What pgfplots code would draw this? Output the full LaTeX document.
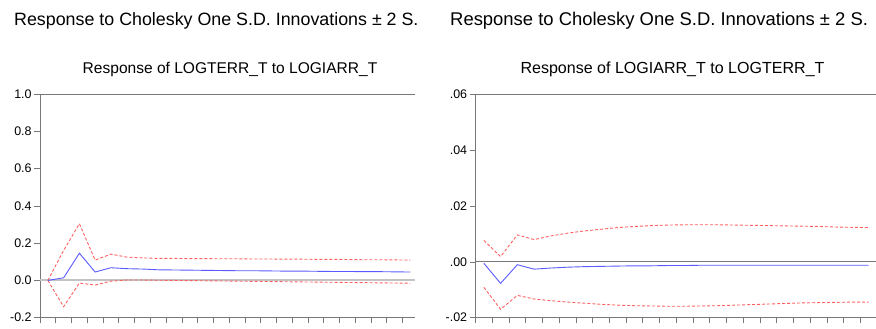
\documentclass[border=0pt]{standalone}
\usepackage{pgfplots}
\pgfplotsset{compat=1.18}
\usepackage{fontspec}
\setmainfont{Liberation Sans}
\definecolor{irfblue}{RGB}{90,90,255}
\definecolor{irfred}{RGB}{255,95,95}
\definecolor{axgray}{RGB}{120,120,120}
\definecolor{zerolight}{RGB}{195,195,195}

\pgfplotstableread{
k blue upper lower
1 0.000 0.000 0.000
2 0.014 0.161 -0.141
3 0.146 0.304 -0.014
4 0.045 0.109 -0.025
5 0.068 0.141 -0.004
6 0.063 0.125 0.002
7 0.061 0.121 0.002
8 0.057 0.118 0.001
9 0.056 0.118 0.000
10 0.055 0.117 -0.001
11 0.054 0.117 -0.002
12 0.053 0.116 -0.003
13 0.052 0.116 -0.004
14 0.052 0.115 -0.005
15 0.051 0.115 -0.006
16 0.050 0.114 -0.007
17 0.050 0.114 -0.008
18 0.049 0.113 -0.009
19 0.048 0.113 -0.010
20 0.048 0.112 -0.011
21 0.047 0.111 -0.012
22 0.047 0.111 -0.013
23 0.046 0.110 -0.014
24 0.045 0.109 -0.015
}\lefttab

\pgfplotstableread{
k blue upper lower
1 -0.0005 0.0077 -0.0091
2 -0.0077 0.0019 -0.0170
3 -0.0010 0.0097 -0.0120
4 -0.0026 0.0080 -0.0133
5 -0.0022 0.0093 -0.0139
6 -0.0019 0.0103 -0.0144
7 -0.0017 0.0111 -0.0148
8 -0.0016 0.0117 -0.0152
9 -0.0015 0.0123 -0.0155
10 -0.0014 0.0127 -0.0157
11 -0.0014 0.0130 -0.0158
12 -0.0013 0.0132 -0.0159
13 -0.0013 0.0133 -0.0159
14 -0.0012 0.0133 -0.0158
15 -0.0012 0.0133 -0.0157
16 -0.0012 0.0132 -0.0155
17 -0.0012 0.0131 -0.0153
18 -0.0012 0.0130 -0.0151
19 -0.0012 0.0129 -0.0149
20 -0.0012 0.0128 -0.0147
21 -0.0012 0.0127 -0.0146
22 -0.0012 0.0125 -0.0145
23 -0.0012 0.0124 -0.0144
24 -0.0012 0.0123 -0.0144
}\righttab

\pgfplotsset{
  irfaxis/.style={
    scale only axis,
    anchor=south west,
    axis x line=box,
    axis y line=left,
    axis line style={draw=axgray,-,line width=0.8bp},
    xtick pos=bottom,
    ytick pos=left,
    tick align=outside,
    xmin=0.5,
    xtick={0.5,1.5,...,23.5},
    xticklabels={},
    major tick length=5.7bp,
    x tick style={draw=axgray,line width=0.6bp},
    y tick style={draw=axgray,line width=0.6bp},
    tick label style={font=\fontsize{12.5}{14}\selectfont, text=black},
    yticklabel style={inner sep=2.5bp},
    scaled y ticks=false,
    clip=false,
  },
  bluel/.style={draw=irfblue,line width=0.9bp,mark=none},
  redl/.style={draw=irfred,line width=0.9bp,dash pattern=on 3bp off 2bp,mark=none},
}

\begin{document}
\begin{tikzpicture}
\useasboundingbox (0,0) rectangle (876bp,329bp);
\clip (0,0) rectangle (876bp,329bp);

\node[anchor=base west,inner sep=0pt,font=\fontsize{17.9}{21}\selectfont] at (14bp,303bp) {Response to Cholesky One S.D. Innovations ± 2 S.};
\node[anchor=base west,inner sep=0pt,font=\fontsize{18.5}{21}\selectfont] at (450bp,303bp) {Response to Cholesky One S.D. Innovations ± 2 S.};
\node[anchor=base,inner sep=0pt,font=\fontsize{15.6}{18}\selectfont] at (230bp,255bp) {Response of LOGTERR\_T to LOGIARR\_T};
\node[anchor=base,inner sep=0pt,font=\fontsize{16.1}{18}\selectfont] at (672.5bp,255bp) {Response of LOGIARR\_T to LOGTERR\_T};

\begin{axis}[irfaxis,
  at={(40bp,11.3bp)}, width=375bp, height=223.7bp,
  xmax=24.3,
  ymin=-0.2, ymax=1.0,
  ytick={-0.2,0,0.2,0.4,0.6,0.8,1.0},
  yticklabels={-0.2,0.0,0.2,0.4,0.6,0.8,1.0},
  extra y ticks={0},
  extra y tick labels={},
  extra y tick style={grid=major, major grid style={draw=zerolight,line width=2bp}, major tick length=0pt},
]
\addplot[redl] table[x=k,y=upper] {\lefttab};
\addplot[redl] table[x=k,y=lower] {\lefttab};
\addplot[bluel] table[x=k,y=blue] {\lefttab};
\end{axis}

\begin{axis}[irfaxis,
  at={(475.5bp,11.3bp)}, width=401.5bp, height=223.2bp,
  xmax=24.5,
  ymin=-0.02, ymax=0.06,
  ytick={-0.02,0,0.02,0.04,0.06},
  yticklabels={-.02,.00,.02,.04,.06},
  extra y ticks={0},
  extra y tick labels={},
  extra y tick style={grid=major, major grid style={draw=axgray,line width=0.8bp}, major tick length=0pt},
]
\addplot[redl] table[x=k,y=upper] {\righttab};
\addplot[redl] table[x=k,y=lower] {\righttab};
\addplot[bluel] table[x=k,y=blue] {\righttab};
\end{axis}
\end{tikzpicture}
\end{document}
